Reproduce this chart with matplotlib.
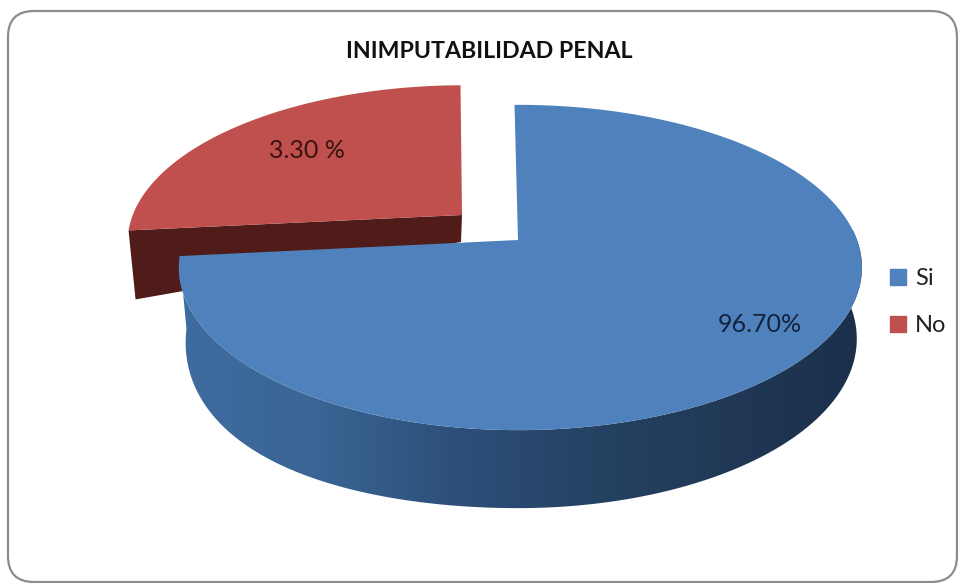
import numpy as np
import matplotlib
matplotlib.use('Agg')
import matplotlib.pyplot as plt
from matplotlib.patches import FancyBboxPatch, Patch, Polygon
from matplotlib.colors import LinearSegmentedColormap

title = 'INIMPUTABILIDAD PENAL'
categories = ['Si', 'No']
value_labels = ['96.70%', '3.30 %']
# share of the circle each slice takes as drawn in the picture
drawn_shares = [73.6, 26.4]
colors = ['#4f81bd', '#c0504d']

plt.rcParams['font.family'] = ['Lato', 'DejaVu Sans']

# perspective of the disc, in figure pixels
CX, CY = 518, 240
B, A, K = 339, 158, 0.169


def disc(theta, dx=0, dy=0, sx=1.0, sy=1.0):
    """Project angles (clockwise from 12 o'clock) on the tilted disc."""
    u = np.sin(theta)
    v = -np.cos(theta)
    w = 1 - K * v
    squeeze = np.where(u < 0, 0.986, 1.0)
    return CX + dx + sx * squeeze * B * u / w, CY + dy + sy * A * v / w


def under(x, theta):
    """Lower rim of the blue slice, narrower and below the top face."""
    u = np.sin(theta)
    v = -np.cos(theta)
    narrow = np.where(u < 0, 0.98, 0.985)
    return CX + (x - CX) * narrow, 70 + 8 * v + 24 * np.clip(-u, 0, None) ** 2 * v


fig = plt.figure(figsize=(9.58, 5.83), dpi=100)
ax = fig.add_axes([0, 0, 1, 1])
ax.axis('off')

ax.add_patch(FancyBboxPatch((8, 11), 949, 571, boxstyle='round,pad=0,rounding_size=26',
                            fc='white', ec='#8c8c8c', lw=1.6))

edges = np.cumsum([0] + drawn_shares) / sum(drawn_shares) * 2 * np.pi - np.radians(0.7)

# red slice, pulled out to the upper left
t_red = np.linspace(edges[1], edges[2], 120)
rx, ry = disc(t_red, dx=-56, dy=-25, sx=0.985, sy=0.96)
ap_x, ap_y = CX - 56, CY - 25
rx = rx + (ap_y - ry) * 0.015
ax.fill([rx[0], ap_x, ap_x - 1, rx[0] + 7], [ry[0], ap_y, ap_y + 27, ry[0] + 69],
        color='#4f1c1a', lw=0)
ax.fill(np.r_[ap_x, rx], np.r_[ap_y, ry], color=colors[1], lw=0)

# blue slice: rim first, shaded left to right, then the top face
side_cmap = LinearSegmentedColormap.from_list(
    'side', [(0, '#3f6ca0'), (0.2, '#3a6595'), (0.42, '#2c4e78'), (0.65, '#24405f'), (1, '#1b2f4b')])
t_side = np.linspace(np.radians(78), edges[1], 260)
tx, ty = disc(t_side)
bx, d = under(tx, t_side)
by = ty + d
rim = Polygon(np.c_[np.r_[tx, bx[::-1]], np.r_[ty, by[::-1]]], closed=True, fc='none', ec='none')
ax.add_patch(rim)
shade = ax.imshow(np.linspace(0, 1, 256)[None, :], cmap=side_cmap, extent=(175, 865, 520, 230),
                  aspect='auto', interpolation='bilinear', zorder=1.5)
shade.set_clip_path(rim)

t_blue = np.linspace(edges[0], edges[1], 300)
fx, fy = disc(t_blue)
ax.fill(np.r_[CX, fx], np.r_[CY, fy], color=colors[0], lw=0, zorder=2)

ax.set_xlim(0, 958)
ax.set_ylim(583, 0)

ax.text(489, 52, title, ha='center', va='center', fontsize=16.7, fontweight='bold', color='#111111', zorder=3)
ax.text(760, 325, value_labels[0], ha='center', va='center', fontsize=18, color='#14233c', zorder=3)
ax.text(307, 151, value_labels[1], ha='center', va='center', fontsize=18, color='#3a1212', zorder=3)

handles = [Patch(color=c, label=n) for c, n in zip(colors, categories)]
ax.legend(handles=handles, loc='center left', bbox_to_anchor=(869, 302), bbox_transform=ax.transData,
          frameon=False, fontsize=17, handlelength=0.65, handleheight=0.65, handletextpad=0.4,
          labelspacing=1.1, labelcolor='#222222')

fig.savefig('out.png', dpi=100)
